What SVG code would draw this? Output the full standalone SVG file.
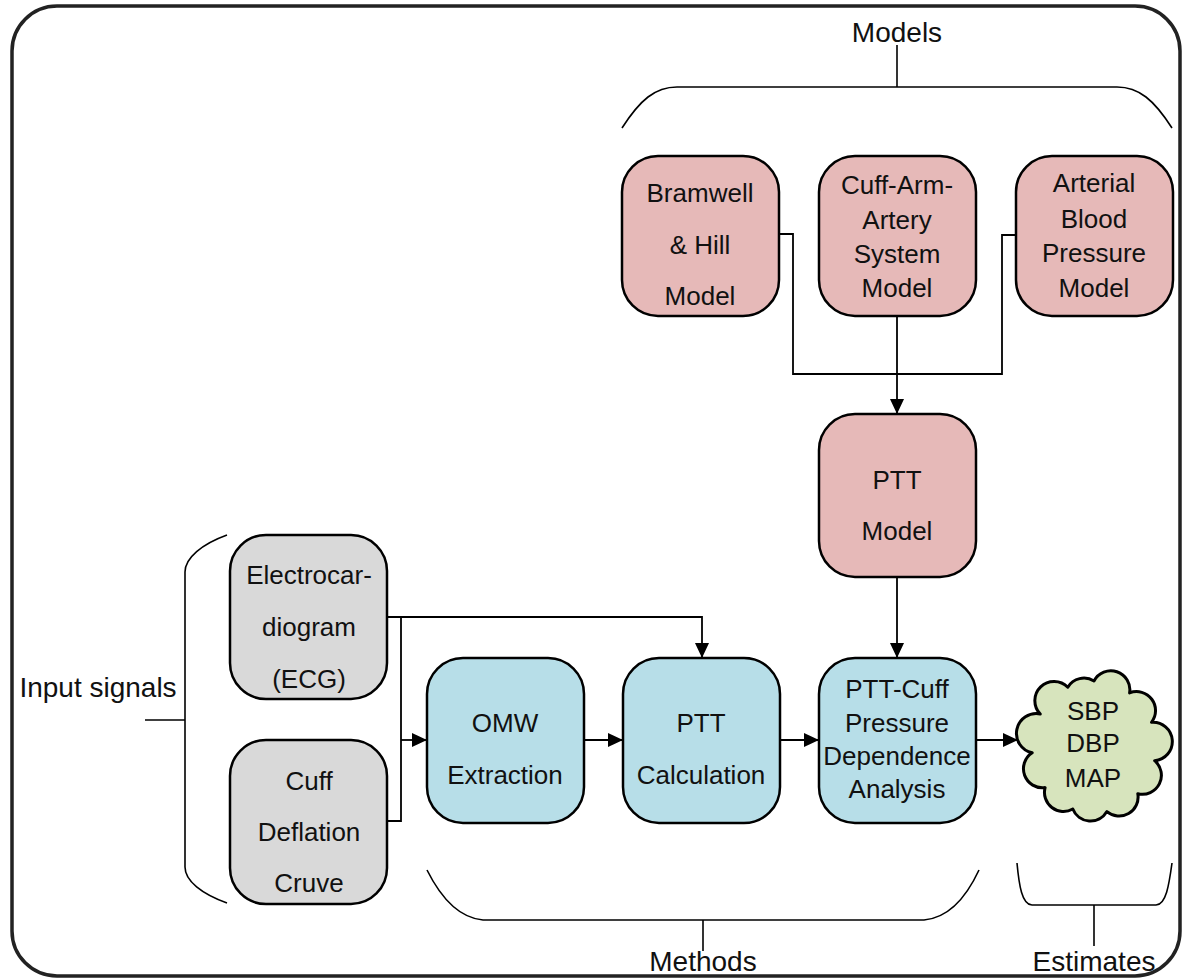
<svg xmlns="http://www.w3.org/2000/svg" width="1182" height="979" viewBox="0 0 1182 979">
<style>
.box{stroke:#000;stroke-width:2.5}
.pink{fill:#e6b9b8}
.blue{fill:#b7dee8}
.gray{fill:#d9d9d9}
.t{font-family:"Liberation Sans",Arial,sans-serif;font-size:26px;fill:#111;text-anchor:middle}
.lbl{font-family:"Liberation Sans",Arial,sans-serif;font-size:28px;fill:#111;text-anchor:middle}
.br{fill:none;stroke:#000;stroke-width:1.6}
.c{fill:none;stroke:#000;stroke-width:1.8}
</style>
<defs>
<marker id="ah" viewBox="0 0 15 14" refX="15" refY="7" markerWidth="15" markerHeight="14" orient="auto" markerUnits="userSpaceOnUse"><path d="M0,0 L15,7 L0,14 z" fill="#000"/></marker>
</defs>
<rect width="1182" height="979" fill="#fff"/>
<rect id="frame" x="12" y="6" width="1168" height="970" rx="45" ry="45" fill="none" stroke="#222" stroke-width="3.5"/>

<g id="braces">
<path class="br" d="M622,128 C640,100 655,87 677,87 L1117,87 C1139,87 1154,100 1172,128"/>
<line class="br" x1="897" y1="45" x2="897" y2="87"/>
<text class="lbl" x="897" y="42">Models</text>
<path class="br" d="M227,535 C202,544 185,558 185,572 L185,867 C185,881 202,894 227,903"/>
<line class="br" x1="145" y1="720" x2="185" y2="720"/>
<text class="lbl" x="98" y="697">Input signals</text>
<path class="br" d="M427,870 C442,900 460,918 483,920 L924,920 C947,918 965,900 979,870"/>
<line class="br" x1="703" y1="920" x2="703" y2="951"/>
<text class="lbl" x="703" y="971">Methods</text>
<path class="br" d="M1017,863 C1019,885 1022,905 1032,905 L1156,905 C1166,905 1169,885 1172,863"/>
<line class="br" x1="1094" y1="905" x2="1094" y2="946"/>
<text class="lbl" x="1094" y="971">Estimates</text>
</g>

<g id="connectors">
<polyline class="c" points="778,234 793,234 793,374 1002,374 1002,235 1015,235"/>
<line class="c" x1="897" y1="316" x2="897" y2="414" marker-end="url(#ah)"/>
<line class="c" x1="897" y1="577" x2="897" y2="658" marker-end="url(#ah)"/>
<polyline class="c" points="387,617 702,617 702,658" marker-end="url(#ah)"/>
<polyline class="c" points="401,617 401,821 387,821"/>
<line class="c" x1="401" y1="740" x2="427" y2="740" marker-end="url(#ah)"/>
<line class="c" x1="584" y1="740" x2="623" y2="740" marker-end="url(#ah)"/>
<line class="c" x1="780" y1="740" x2="819" y2="740" marker-end="url(#ah)"/>
<line class="c" x1="976" y1="740" x2="1018" y2="740" marker-end="url(#ah)"/>
</g>

<g id="bramwell">
<rect class="box pink" x="622" y="156" width="157" height="160" rx="36"/>
<text class="t" x="700" y="202">Bramwell</text>
<text class="t" x="700" y="254">&amp; Hill</text>
<text class="t" x="700" y="305">Model</text>
</g>
<g id="cuffarm">
<rect class="box pink" x="819" y="156" width="157" height="160" rx="36"/>
<text class="t" x="897" y="194">Cuff-Arm-</text>
<text class="t" x="897" y="229">Artery</text>
<text class="t" x="897" y="263">System</text>
<text class="t" x="897" y="297">Model</text>
</g>
<g id="arterial">
<rect class="box pink" x="1016" y="156" width="157" height="160" rx="36"/>
<text class="t" x="1094" y="192">Arterial</text>
<text class="t" x="1094" y="228">Blood</text>
<text class="t" x="1094" y="262">Pressure</text>
<text class="t" x="1094" y="297">Model</text>
</g>
<g id="pttmodel">
<rect class="box pink" x="819" y="414" width="157" height="163" rx="36"/>
<text class="t" x="897" y="489">PTT</text>
<text class="t" x="897" y="540">Model</text>
</g>
<g id="ecg">
<rect class="box gray" x="230" y="535" width="157" height="164" rx="36"/>
<text class="t" x="309" y="584">Electrocar-</text>
<text class="t" x="309" y="636">diogram</text>
<text class="t" x="309" y="688">(ECG)</text>
</g>
<g id="cuffdeflation">
<rect class="box gray" x="230" y="740" width="157" height="164" rx="36"/>
<text class="t" x="309" y="790">Cuff</text>
<text class="t" x="309" y="841">Deflation</text>
<text class="t" x="309" y="892">Cruve</text>
</g>
<g id="omw">
<rect class="box blue" x="427" y="658" width="157" height="165" rx="36"/>
<text class="t" x="505" y="732">OMW</text>
<text class="t" x="505" y="784">Extraction</text>
</g>
<g id="pttcalc">
<rect class="box blue" x="623" y="658" width="157" height="165" rx="36"/>
<text class="t" x="701" y="732">PTT</text>
<text class="t" x="701" y="784">Calculation</text>
</g>
<g id="pttcuff">
<rect class="box blue" x="819" y="658" width="157" height="165" rx="36"/>
<text class="t" x="897" y="698">PTT-Cuff</text>
<text class="t" x="897" y="732">Pressure</text>
<text class="t" x="897" y="765">Dependence</text>
<text class="t" x="897" y="798">Analysis</text>
</g>
<g id="estimates">
<path d="M1094,681 A19,19 0 0 1 1129.6,692.9 A19,19 0 0 1 1151.5,722.3 A19,19 0 0 1 1154.6,760.7 A19,19 0 0 1 1137.8,793.7 A19,19 0 0 1 1106.9,811.6 A19,19 0 0 1 1072.8,809 A19,19 0 0 1 1045.1,787.6 A19,19 0 0 1 1032.2,752.8 A19,19 0 0 1 1040.3,714 A19,19 0 0 1 1067.8,687.2 A19,19 0 0 1 1094,681 Z" fill="#d7e4bd" stroke="#000" stroke-width="3" stroke-linejoin="round"/>
<text class="t" x="1093" y="720">SBP</text>
<text class="t" x="1093" y="752">DBP</text>
<text class="t" x="1093" y="787">MAP</text>
</g>
</svg>
